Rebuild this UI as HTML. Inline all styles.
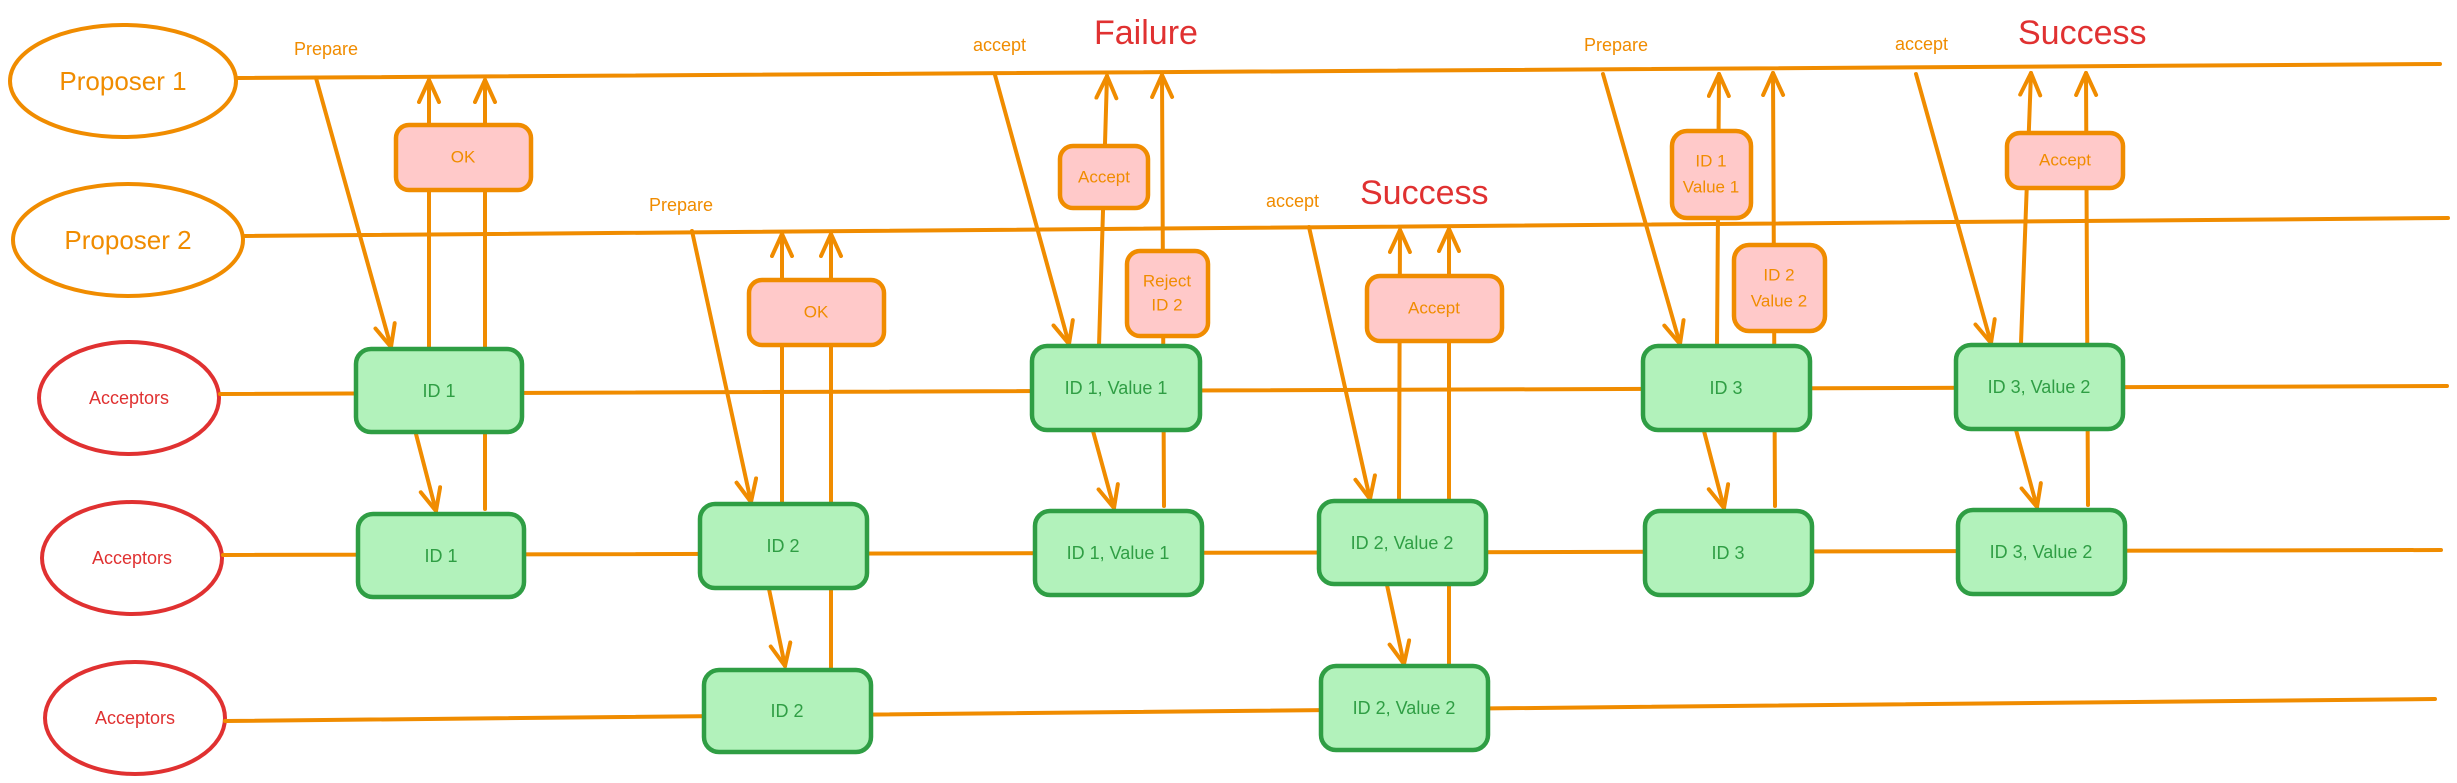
<!DOCTYPE html>
<html><head><meta charset="utf-8"><style>
html,body{margin:0;padding:0;background:#fff;}
svg{display:block;}
text{font-family:"Liberation Sans",sans-serif;}
.o{stroke:#f08c00;stroke-width:4;fill:none;stroke-linecap:round;}
.g{fill:#b2f2bb;stroke:#2f9e44;stroke-width:4.5;}
.p{fill:#ffc9c9;stroke:#f08c00;stroke-width:4.5;}
.gt{fill:#2f9e44;font-size:18px;text-anchor:middle;dominant-baseline:central;}
.pt{fill:#f08c00;font-size:17px;text-anchor:middle;dominant-baseline:central;}
.lab{fill:#f08c00;font-size:18px;}
.big{fill:#e03131;font-size:34px;}
</style></head><body>
<svg width="2457" height="783" viewBox="0 0 2457 783" xmlns="http://www.w3.org/2000/svg">
<defs>
<marker id="ah" markerWidth="30" markerHeight="30" refX="24" refY="12" orient="auto" markerUnits="userSpaceOnUse">
<polyline points="2,2 24,12 2,22" fill="none" stroke="#f08c00" stroke-width="4" stroke-linecap="round" stroke-linejoin="round"/>
</marker>
</defs>
<!-- ellipses -->
<ellipse cx="123" cy="81" rx="113" ry="56" fill="none" stroke="#f08c00" stroke-width="4"/>
<text x="123" y="81" fill="#f08c00" font-size="26" text-anchor="middle" dominant-baseline="central">Proposer 1</text>
<ellipse cx="128" cy="240" rx="115" ry="56" fill="none" stroke="#f08c00" stroke-width="4"/>
<text x="128" y="240" fill="#f08c00" font-size="26" text-anchor="middle" dominant-baseline="central">Proposer 2</text>
<ellipse cx="129" cy="398" rx="90" ry="56" fill="none" stroke="#e03131" stroke-width="4"/>
<text x="129" y="398" fill="#e03131" font-size="18" text-anchor="middle" dominant-baseline="central">Acceptors</text>
<ellipse cx="132" cy="558" rx="90" ry="56" fill="none" stroke="#e03131" stroke-width="4"/>
<text x="132" y="558" fill="#e03131" font-size="18" text-anchor="middle" dominant-baseline="central">Acceptors</text>
<ellipse cx="135" cy="718" rx="90" ry="56" fill="none" stroke="#e03131" stroke-width="4"/>
<text x="135" y="718" fill="#e03131" font-size="18" text-anchor="middle" dominant-baseline="central">Acceptors</text>
<!-- horizontal lines -->
<line class="o" x1="238" y1="78" x2="2440" y2="64"/>
<line class="o" x1="245" y1="236" x2="2448" y2="218"/>
<line class="o" x1="220" y1="394" x2="2447" y2="386"/>
<line class="o" x1="223" y1="555" x2="2441" y2="550"/>
<line class="o" x1="225" y1="721" x2="2435" y2="699"/>
<!-- vertical up lines -->
<line class="o" x1="429" y1="349" x2="429" y2="80" marker-end="url(#ah)"/>
<line class="o" x1="485" y1="509" x2="485" y2="80" marker-end="url(#ah)"/>
<line class="o" x1="782" y1="504" x2="782" y2="234" marker-end="url(#ah)"/>
<line class="o" x1="831" y1="669" x2="831" y2="234" marker-end="url(#ah)"/>
<line class="o" x1="1099" y1="346" x2="1107" y2="76" marker-end="url(#ah)"/>
<line class="o" x1="1164" y1="506" x2="1162" y2="75" marker-end="url(#ah)"/>
<line class="o" x1="1399" y1="500" x2="1400" y2="230" marker-end="url(#ah)"/>
<line class="o" x1="1449" y1="665" x2="1449" y2="229" marker-end="url(#ah)"/>
<line class="o" x1="1717" y1="346" x2="1719" y2="74" marker-end="url(#ah)"/>
<line class="o" x1="1775" y1="506" x2="1773" y2="73" marker-end="url(#ah)"/>
<line class="o" x1="2021" y1="343" x2="2031" y2="73" marker-end="url(#ah)"/>
<line class="o" x1="2088" y1="505" x2="2086" y2="73" marker-end="url(#ah)"/>
<!-- diagonal down arrows -->
<line class="o" x1="316" y1="78" x2="391" y2="347" marker-end="url(#ah)"/>
<line class="o" x1="416" y1="434" x2="436" y2="511" marker-end="url(#ah)"/>
<line class="o" x1="692" y1="231" x2="751" y2="502" marker-end="url(#ah)"/>
<line class="o" x1="769" y1="589" x2="785" y2="666" marker-end="url(#ah)"/>
<line class="o" x1="995" y1="75" x2="1069" y2="344" marker-end="url(#ah)"/>
<line class="o" x1="1093" y1="431" x2="1114" y2="508" marker-end="url(#ah)"/>
<line class="o" x1="1309" y1="227" x2="1370" y2="499" marker-end="url(#ah)"/>
<line class="o" x1="1387" y1="585" x2="1404" y2="664" marker-end="url(#ah)"/>
<line class="o" x1="1603" y1="74" x2="1680" y2="344" marker-end="url(#ah)"/>
<line class="o" x1="1704" y1="431" x2="1724" y2="508" marker-end="url(#ah)"/>
<line class="o" x1="1916" y1="74" x2="1991" y2="343" marker-end="url(#ah)"/>
<line class="o" x1="2016" y1="430" x2="2037" y2="507" marker-end="url(#ah)"/>
<!-- green boxes -->
<rect class="g" x="356" y="349" width="166" height="83" rx="15"/><text class="gt" x="439" y="391">ID 1</text>
<rect class="g" x="358" y="514" width="166" height="83" rx="15"/><text class="gt" x="441" y="556">ID 1</text>
<rect class="g" x="700" y="504" width="167" height="84" rx="15"/><text class="gt" x="783" y="546">ID 2</text>
<rect class="g" x="704" y="670" width="167" height="82" rx="15"/><text class="gt" x="787" y="711">ID 2</text>
<rect class="g" x="1032" y="346" width="168" height="84" rx="15"/><text class="gt" x="1116" y="388">ID 1, Value 1</text>
<rect class="g" x="1035" y="511" width="167" height="84" rx="15"/><text class="gt" x="1118" y="553">ID 1, Value 1</text>
<rect class="g" x="1319" y="501" width="167" height="83" rx="15"/><text class="gt" x="1402" y="543">ID 2, Value 2</text>
<rect class="g" x="1321" y="666" width="167" height="84" rx="15"/><text class="gt" x="1404" y="708">ID 2, Value 2</text>
<rect class="g" x="1643" y="346" width="167" height="84" rx="15"/><text class="gt" x="1726" y="388">ID 3</text>
<rect class="g" x="1645" y="511" width="167" height="84" rx="15"/><text class="gt" x="1728" y="553">ID 3</text>
<rect class="g" x="1956" y="345" width="167" height="84" rx="15"/><text class="gt" x="2039" y="387">ID 3, Value 2</text>
<rect class="g" x="1958" y="510" width="167" height="84" rx="15"/><text class="gt" x="2041" y="552">ID 3, Value 2</text>
<!-- pink boxes -->
<rect class="p" x="396" y="125" width="135" height="65" rx="13"/><text class="pt" x="463" y="157">OK</text>
<rect class="p" x="749" y="280" width="135" height="65" rx="13"/><text class="pt" x="816" y="312">OK</text>
<rect class="p" x="1060" y="146" width="88" height="62" rx="13"/><text class="pt" x="1104" y="177">Accept</text>
<rect class="p" x="1127" y="251" width="81" height="85" rx="13"/><text class="pt" x="1167" y="281">Reject</text><text class="pt" x="1167" y="305">ID 2</text>
<rect class="p" x="1367" y="276" width="135" height="65" rx="13"/><text class="pt" x="1434" y="308">Accept</text>
<rect class="p" x="1672" y="131" width="79" height="87" rx="15"/><text class="pt" x="1711" y="161">ID 1</text><text class="pt" x="1711" y="187">Value 1</text>
<rect class="p" x="1734" y="245" width="91" height="86" rx="15"/><text class="pt" x="1779" y="275">ID 2</text><text class="pt" x="1779" y="301">Value 2</text>
<rect class="p" x="2007" y="133" width="116" height="55" rx="13"/><text class="pt" x="2065" y="160">Accept</text>
<!-- labels -->
<text class="lab" x="294" y="55">Prepare</text>
<text class="lab" x="649" y="211">Prepare</text>
<text class="lab" x="973" y="51">accept</text>
<text class="big" x="1094" y="44">Failure</text>
<text class="lab" x="1266" y="207">accept</text>
<text class="big" x="1360" y="204">Success</text>
<text class="lab" x="1584" y="51">Prepare</text>
<text class="lab" x="1895" y="50">accept</text>
<text class="big" x="2018" y="44">Success</text>
</svg>
</body></html>
